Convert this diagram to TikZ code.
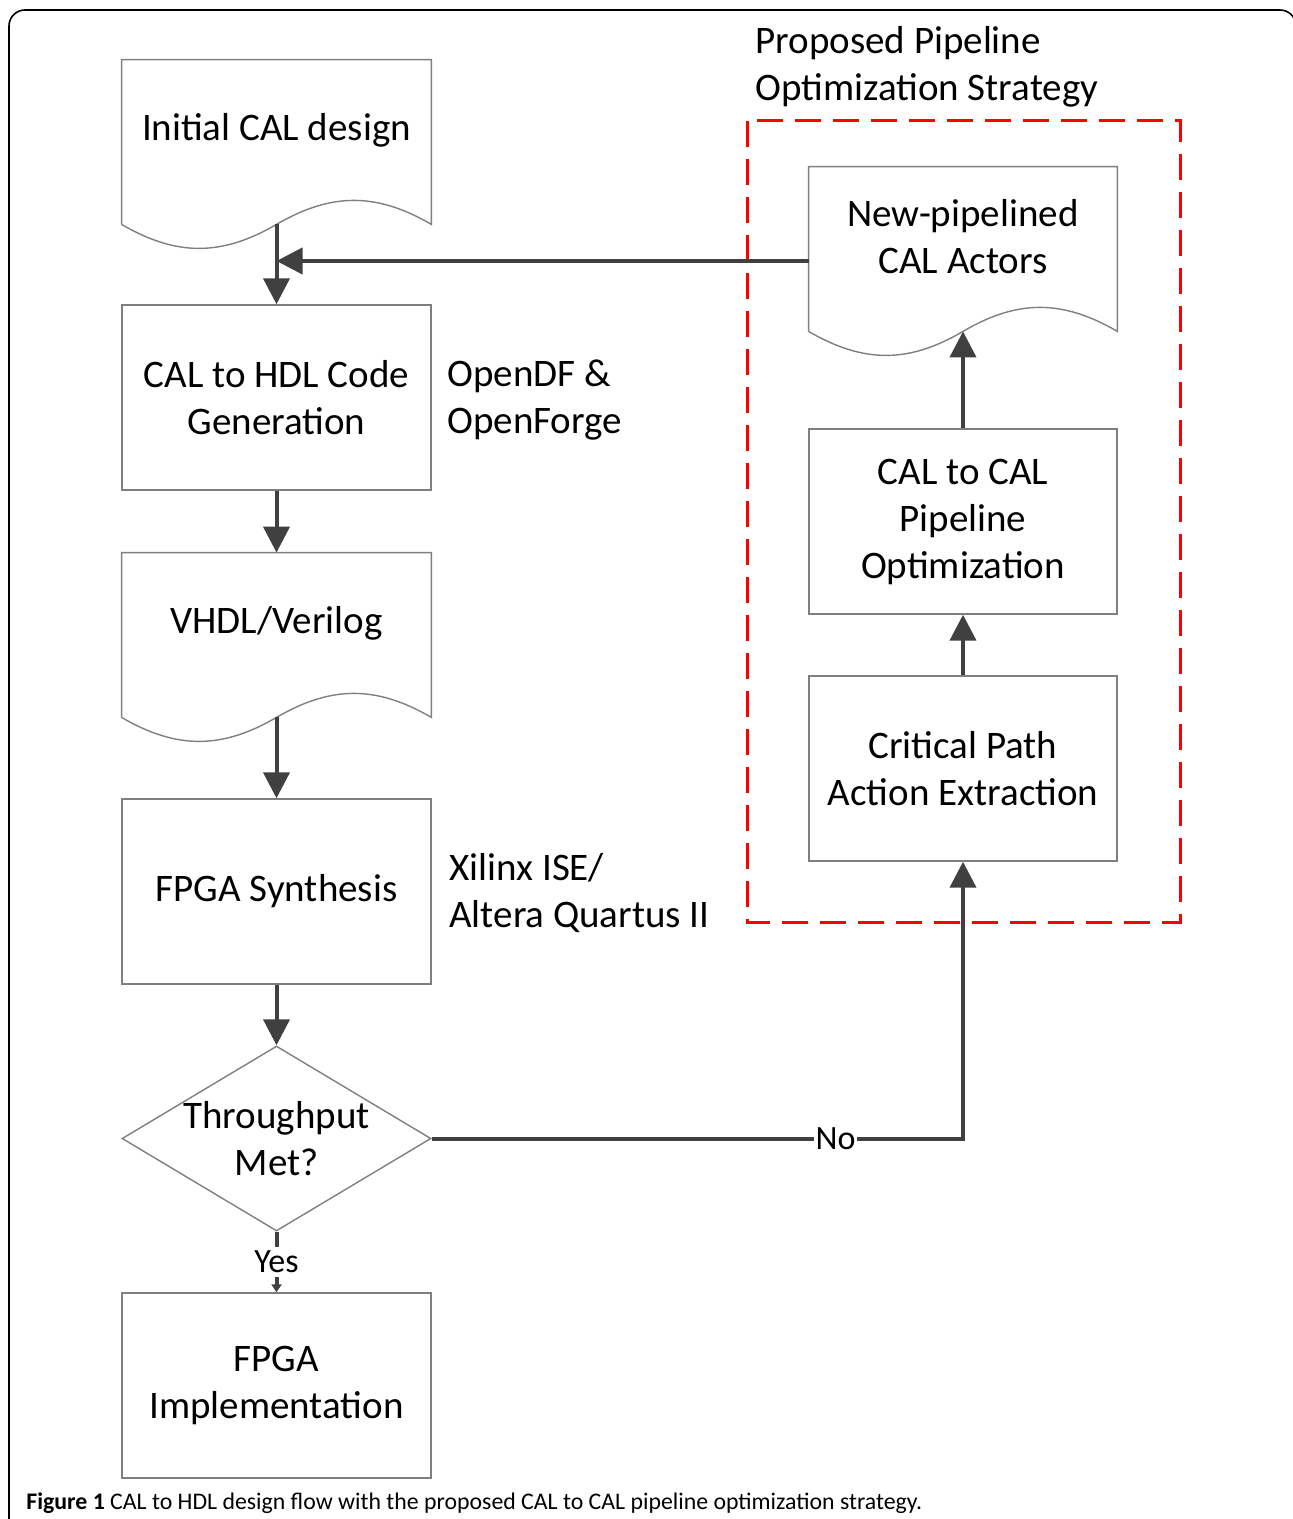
\documentclass[tikz,border=0pt]{standalone}
\usepackage{fontspec}
\setmainfont{Carlito}
\usetikzlibrary{shapes.geometric}
\usetikzlibrary{arrows.meta}
\usetikzlibrary{positioning}

\definecolor{arrowgray}{HTML}{404040}
\definecolor{boxgray}{HTML}{7F7F7F}

% outline of a document node with a wavy bottom
\newcommand{\docshape}[1]{%
  \draw[doc line] ([shift={(0,24)}]#1.south west) -- (#1.north west) -- (#1.north east) -- ([shift={(0,24)}]#1.south east)
    .. controls ([shift={(-55,-8)}]#1.south east) and ([shift={(-100,-8)}]#1.south east) .. ([shift={(0,24)}]#1.south)
    .. controls ([shift={(100,56)}]#1.south west) and ([shift={(55,56)}]#1.south west) .. ([shift={(0,24)}]#1.south west);
  \coordinate (#1-b) at ([shift={(0,24)}]#1.south);
}

\begin{document}
\begin{tikzpicture}[x=0.5pt,y=-0.5pt,
  flow/.style={draw=arrowgray,line width=2pt,-{Triangle[width=13pt,length=13pt]}},
  doc line/.style={draw=boxgray,line width=0.7pt},
  main node/.style={rectangle,draw=boxgray,line width=0.7pt,minimum width=154.5pt,minimum height=92.5pt,inner sep=0pt,align=center,font=\fontsize{19.5}{23.5}\selectfont},
  doc node/.style={rectangle,minimum width=154.5pt,minimum height=70pt,inner sep=0pt,align=center,font=\fontsize{19.5}{23.5}\selectfont},
  note/.style={align=left,anchor=west,inner sep=0pt,font=\fontsize{19.5}{23.5}\selectfont}]

  \useasboundingbox (0,0) rectangle (1292,1519);
  \draw[line width=0.8pt,rounded corners=8pt] (9,1540) -- (9,10) -- (1296,10) -- (1296,1540);

  \node[doc node] at (276.5,130) (1) {Initial CAL design};
  \docshape{1}
  \node[main node] at (276.5,397.5) (2) {CAL to HDL Code\\Generation};
  \node[doc node] at (276.5,623) (3) {VHDL/Verilog};
  \docshape{3}
  \node[main node] at (276.5,891.5) (4) {FPGA Synthesis};
  \node[diamond,draw=boxgray,line width=0.7pt,minimum width=154.5pt,minimum height=92.5pt,inner sep=0pt,align=center,font=\fontsize{19.5}{23.5}\selectfont] at (276.5,1138.5) (5) {\makebox[0pt]{Throughput}\\\makebox[0pt]{Met?}};
  \node[main node] at (276.5,1385.5) (6) {FPGA\\Implementation};

  \node[doc node,minimum width=154pt] at (963,237) (7) {New-pipelined\\CAL Actors};
  \docshape{7}
  \node[main node,minimum width=154pt] at (963,521.5) (8) {CAL to CAL\\Pipeline\\Optimization};
  \node[main node,minimum width=154pt] at (963,768.5) (9) {Critical Path\\Action Extraction};

  \node[note] at (447,400) (10) {OpenDF \&\\OpenForge};
  \node[note] at (449,893) (11) {Xilinx ISE/\\Altera Quartus II};
  \node[note] at (755,67) (12) {Proposed Pipeline\\Optimization Strategy};

  \draw[red,line width=1.5pt,dash pattern=on 13pt off 6pt] (747,121) rectangle (1180,922);

  \draw[flow] (1-b) -- (2.north);
  \draw[flow] ([shift={(0,24)}]7.west) -- ([shift={(0,24)}]7.west -| 1-b);
  \draw[flow] (2.south) -- (3.north);
  \draw[flow] (3-b) -- (4.north);
  \draw[flow] (4.south) -- (5.north);
  \draw[draw=arrowgray,line width=2pt,-{Triangle[width=5pt,length=4pt]}] (5.south) -- node[fill=white,inner sep=2pt,font=\fontsize{17}{20}\selectfont] {Yes} (6.north);
  \draw[flow] (5.east) -- node[pos=0.76,fill=white,inner sep=1pt,font=\fontsize{17}{20}\selectfont] {No} (5.east -| 9.south) -- (9.south);
  \draw[flow] (9.north) -- (8.south);
  \draw[flow] (8.north) -- (7-b);

  \node[anchor=west,inner sep=0pt,font=\fontsize{11.9}{14}\selectfont] at (26,1503) (13) {\textbf{Figure 1} CAL to HDL design flow with the proposed CAL to CAL pipeline optimization strategy.};

\end{tikzpicture}
\end{document}
